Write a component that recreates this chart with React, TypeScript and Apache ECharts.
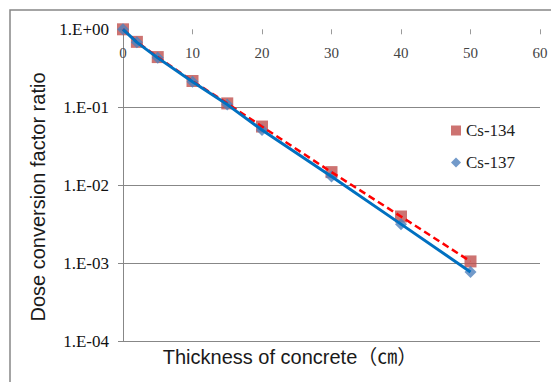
import React, { useEffect, useRef } from "react";
import * as echarts from "echarts";

const thickness = [0, 2, 5, 10, 15, 20, 30, 40, 50];
const cs134 = [1.0, 0.69, 0.44, 0.217, 0.112, 0.0565, 0.0147, 0.00396, 0.00105];
const cs137 = [1.0, 0.68, 0.43, 0.212, 0.108, 0.051, 0.0129, 0.00316, 0.00077];
const seriesNames = ["Cs-134", "Cs-137"];
const xTitle = "Thickness of concrete（㎝）";
const yTitle = "Dose conversion factor ratio";

const fmtY = (v: number) => {
  const e = Math.round(Math.log10(v));
  const s = e >= 0 ? "+" : "-";
  return "1.E" + s + String(Math.abs(e)).padStart(2, "0");
};

export default function App() {
  const ref = useRef<HTMLDivElement>(null);
  useEffect(() => {
    if (!ref.current) return;
    const chart = echarts.init(ref.current, null, { renderer: "svg" });
    const d134 = thickness.map((x, i) => [x, cs134[i]]);
    const d137 = thickness.map((x, i) => [x, cs137[i]]);
    const serif = "'Liberation Serif', serif";
    chart.setOption({
      animation: false,
      backgroundColor: "#ffffff",
      grid: { left: 123, right: 11, top: 29.3, bottom: 41, containLabel: false },
      xAxis: {
        type: "value",
        position: "top",
        min: 0,
        max: 60,
        interval: 10,
        axisLine: { show: false },
        axisTick: { show: true, inside: true, length: 5, lineStyle: { color: "#9a9a9a" } },
        axisLabel: { inside: true, margin: 16, fontFamily: serif, fontSize: 15, color: "#444" },
        splitLine: { show: false },
      },
      yAxis: {
        type: "log",
        logBase: 10,
        min: 0.0001,
        max: 1,
        axisLine: { show: true, lineStyle: { color: "#878787", width: 1 } },
        axisTick: { show: true, length: 5, lineStyle: { color: "#878787" } },
        axisLabel: { margin: 14, fontFamily: serif, fontSize: 17, color: "#111", formatter: fmtY },
        splitLine: { show: true, showMaxLine: false, lineStyle: { color: "#878787", width: 1 } },
      },
      legend: {
        data: seriesNames,
        orient: "vertical",
        left: 446,
        top: 117,
        itemWidth: 10,
        itemHeight: 10,
        itemGap: 15,
        textStyle: { fontFamily: serif, fontSize: 17, color: "#222" },
      },
      graphic: [
        {
          type: "rect",
          silent: true,
          shape: { x: 10, y: 10, width: 600, height: 420 },
          style: { fill: "none", stroke: "#868686", lineWidth: 1.5 },
          z: 0,
        },
        {
          type: "text",
          x: 290,
          y: 356.5,
          style: {
            text: xTitle,
            fontFamily: "'Liberation Sans', 'Noto Sans CJK JP'",
            fontSize: 20,
            fill: "#1a1a1a",
            align: "center",
            verticalAlign: "middle",
          },
        },
        {
          type: "text",
          x: 38,
          y: 197,
          rotation: Math.PI / 2,
          style: {
            text: yTitle,
            fontFamily: "'Liberation Sans'",
            fontSize: 20,
            fill: "#1a1a1a",
            align: "center",
            verticalAlign: "middle",
          },
        },
      ],
      series: [
        {
          name: seriesNames[0],
          type: "scatter",
          symbol: "rect",
          symbolSize: 12,
          clip: false,
          itemStyle: { color: "#C0504D" },
          data: d134,
          z: 2,
        },
        {
          name: seriesNames[1],
          type: "scatter",
          symbol: "diamond",
          symbolSize: 12,
          clip: false,
          itemStyle: { color: "#4F81BD" },
          data: d137,
          z: 2,
        },
        {
          name: "Cs-134 line",
          type: "line",
          showSymbol: false,
          symbol: "none",
          clip: false,
          lineStyle: { color: "#FF0000", width: 2.5, type: [7, 4] },
          data: d134,
          z: 3,
        },
        {
          name: "Cs-137 line",
          type: "line",
          showSymbol: false,
          symbol: "none",
          clip: false,
          lineStyle: { color: "#0070C0", width: 3 },
          data: d137,
          z: 4,
        },
      ],
    });
    return () => chart.dispose();
  }, []);
  return (
    <div
      ref={ref}
      style={{ position: "fixed", left: 0, top: 0, width: 551, height: 382, background: "#fff" }}
    />
  );
}
